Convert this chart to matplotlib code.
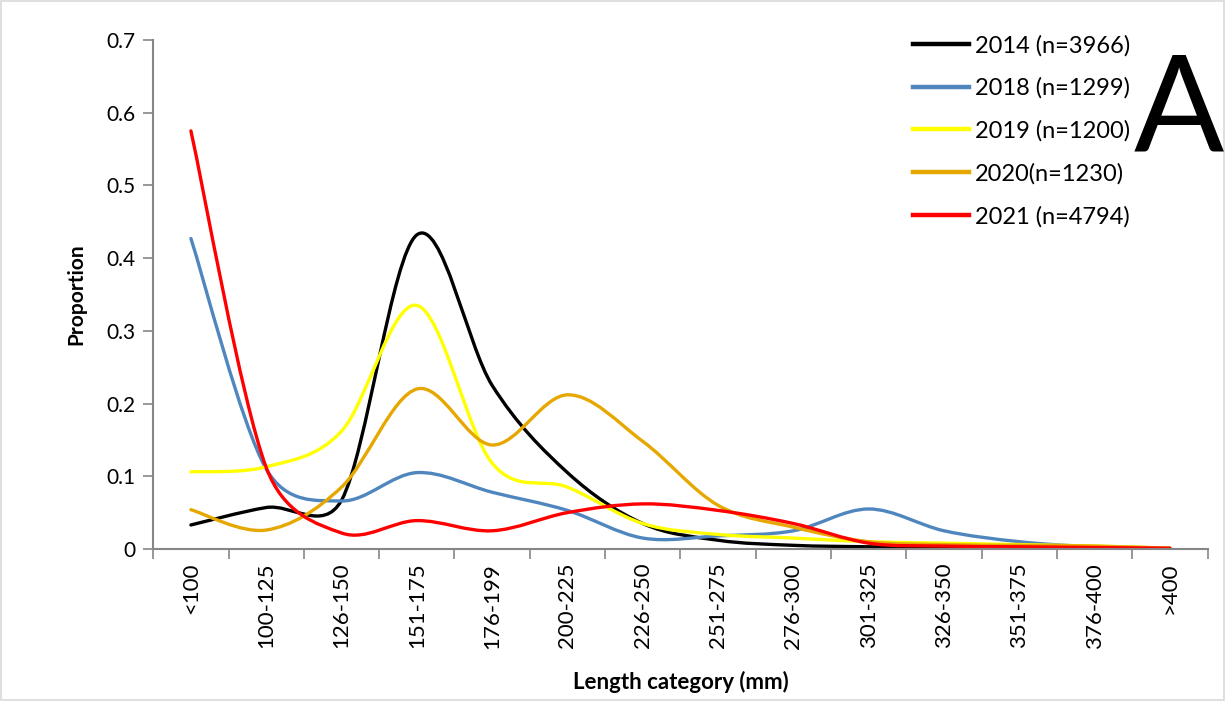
import numpy as np
import matplotlib.pyplot as plt
from matplotlib.path import Path
from matplotlib.patches import PathPatch, Rectangle
from matplotlib.lines import Line2D

plt.rcParams['font.family'] = ['Lato', 'DejaVu Sans']

# Length categories and proportions per year
categories = ['<100', '100-125', '126-150', '151-175', '176-199', '200-225', '226-250',
              '251-275', '276-300', '301-325', '326-350', '351-375', '376-400', '>400']
y2014 = [0.033, 0.057, 0.067, 0.432, 0.225, 0.105, 0.035, 0.012, 0.005, 0.003, 0.002, 0.001, 0.001, 0.0]
y2018 = [0.427, 0.11, 0.066, 0.105, 0.078, 0.053, 0.015, 0.018, 0.025, 0.055, 0.025, 0.01, 0.003, 0.001]
y2019 = [0.106, 0.113, 0.162, 0.335, 0.118, 0.085, 0.035, 0.02, 0.015, 0.01, 0.008, 0.006, 0.004, 0.001]
y2020 = [0.054, 0.026, 0.085, 0.22, 0.143, 0.212, 0.148, 0.06, 0.03, 0.01, 0.006, 0.005, 0.004, 0.001]
y2021 = [0.575, 0.112, 0.022, 0.039, 0.025, 0.05, 0.062, 0.053, 0.035, 0.008, 0.004, 0.003, 0.002, 0.001]

series = [
    ('2014 (n=3966)', y2014, '#000000'),
    ('2018 (n=1299)', y2018, '#4F86BE'),
    ('2019 (n=1200)', y2019, '#FFFF00'),
    ('2020(n=1230)', y2020, '#E6A800'),
    ('2021 (n=4794)', y2021, '#FF0000'),
]


def smooth_path(ax, x, y):
    # Excel-style smoothed line: Bezier arms of 1/6, capped at half the segment (in pixels)
    pts = ax.transData.transform(np.column_stack([x, y]).astype(float))
    n = len(pts)
    verts = [pts[0]]
    codes = [Path.MOVETO]
    for i in range(n - 1):
        p0 = pts[max(i - 1, 0)]
        p1 = pts[i]
        p2 = pts[i + 1]
        p3 = pts[min(i + 2, n - 1)]
        half = np.hypot(*(p2 - p1)) / 2
        a1 = (p2 - p0) / 6
        a2 = (p3 - p1) / 6
        l1, l2 = np.hypot(*a1), np.hypot(*a2)
        if l1 > half:
            a1 = a1 * half / l1
        if l2 > half:
            a2 = a2 * half / l2
        verts += [p1 + a1, p2 - a2, p2]
        codes += [Path.CURVE4] * 3
    verts = ax.transData.inverted().transform(np.array(verts))
    return Path(verts, codes)


fig = plt.figure(figsize=(12.26, 7.02), dpi=100)
ax = fig.add_axes([0.125, 0.218, 0.86, 0.725])

x = np.arange(len(categories))
ax.set_xlim(-0.5, len(categories) - 0.5)
ax.set_ylim(0, 0.7)

handles = []
for label, vals, color in series:
    ax.add_patch(PathPatch(smooth_path(ax, x, vals), fill=False, edgecolor=color,
                           lw=2.4, capstyle='round', joinstyle='round'))
    handles.append(Line2D([], [], color=color, lw=3.2, label=label))

ax.set_yticks(np.arange(0, 0.71, 0.1))
ax.set_yticklabels(['0' if v == 0 else f'{v:.1f}' for v in np.arange(0, 0.71, 0.1)])
ax.set_xticks(np.arange(-0.5, len(categories)))
ax.set_xticklabels([])
ax.set_xticks(x, minor=True)
ax.set_xticklabels(categories, minor=True, rotation=90)
ax.tick_params(axis='x', which='minor', length=0, labelsize=16, pad=10)
ax.tick_params(axis='x', which='major', length=7, width=1.2, color='#868686', direction='out')
ax.tick_params(axis='y', length=7, width=1.2, color='#868686', labelsize=15, pad=6)

for s in ['top', 'right']:
    ax.spines[s].set_visible(False)
for s in ['left', 'bottom']:
    ax.spines[s].set_color('#868686')
    ax.spines[s].set_linewidth(1.5)

ax.set_ylabel('Proportion', fontsize=15, fontweight='bold', labelpad=14)
ax.set_xlabel('Length category (mm)', fontsize=16, fontweight='bold', labelpad=16)

fig.legend(handles=handles, loc='upper left', bbox_to_anchor=(0.727, 0.981),
           frameon=False, fontsize=17, handlelength=2.4, handletextpad=0.25,
           labelspacing=0.9)

fig.text(0.9617, 0.786, 'A', fontsize=96, ha='center', va='baseline', color='#000000')

fig.patches.append(Rectangle((0.001, 0.003), 0.997, 0.995, transform=fig.transFigure,
                             fill=False, edgecolor='#D9D9D9', lw=1.2))

fig.savefig('out.png', dpi=100)
